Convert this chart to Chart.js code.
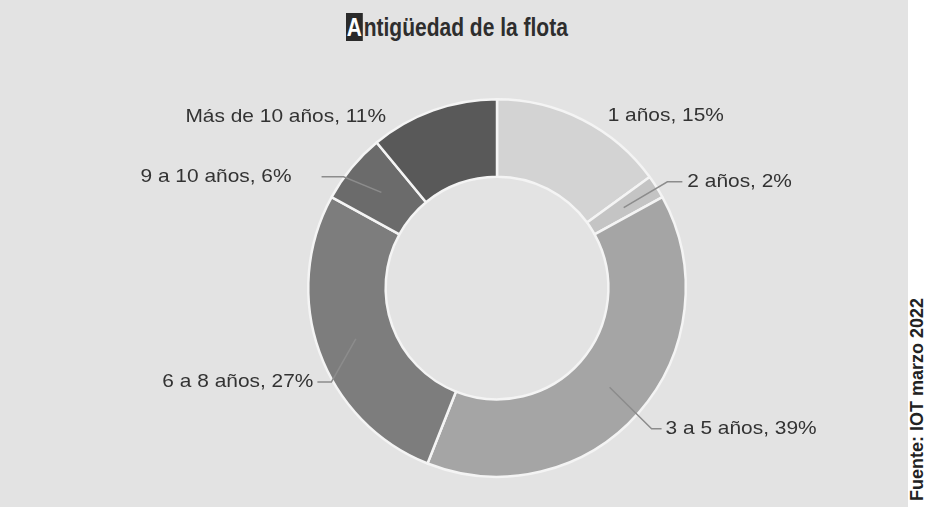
<!DOCTYPE html>
<html lang="es">
<head>
    <meta charset="UTF-8">
    <title>Antigüedad de la flota</title>
    <script src="https://cdn.jsdelivr.net/npm/chart.js"></script>
    <style>
        html, body { margin: 0; padding: 0; background: #fff; }
        .wrap { position: relative; width: 928px; height: 507px; overflow: hidden; }
        .panel { position: absolute; left: 0; top: 0; width: 908px; height: 507px; background: #e3e3e3; }
        .title {
            position: absolute; left: 346px; top: 13px; height: 28px;
            font-family: "Liberation Sans", Arial, sans-serif; font-weight: bold; font-size: 25px;
            color: #2e2e2e; white-space: nowrap; line-height: 28px;
            transform: scaleX(0.84); transform-origin: left center;
        }
        .title .cap { display: inline-block; background: #2a2a2a; color: #fff; padding: 0 1px; margin-right: 1px; line-height: 28px; }
        .source {
            position: absolute; left: 907px; top: 501px;
            font-family: "Liberation Sans", Arial, sans-serif; font-weight: bold; font-size: 18px;
            color: #222; white-space: nowrap;
            transform: rotate(-90deg); transform-origin: left top;
        }
        canvas { position: absolute; left: 0; top: 0; }
    </style>
</head>
<body>
<div class="wrap">
    <div class="panel"></div>
    <div class="title"><span class="cap">A</span>ntigüedad de la flota</div>
    <div class="source">Fuente: IOT marzo 2022</div>
    <canvas id="flotaChart" width="928" height="507"></canvas>
</div>
<script>
// datos
const categorias = ['1 años', '2 años', '3 a 5 años', '6 a 8 años', '9 a 10 años', 'Más de 10 años'];
const porcentajes = [15, 2, 39, 27, 6, 11];
const colores = ['#d3d3d3', '#c4c4c4', '#a5a5a5', '#7d7d7d', '#6b6b6b', '#595959'];

// etiquetas fuera del anillo con linea guia
const etiquetasPlugin = {
    id: 'etiquetas',
    afterDatasetsDraw(chart, args, opts) {
        const ctx = chart.ctx;
        const meta = chart.getDatasetMeta(0);
        meta.data.forEach(function(arc, i) {
            const p = arc.getProps(['x', 'y', 'startAngle', 'endAngle', 'outerRadius', 'innerRadius'], true);
            const mid = (p.startAngle + p.endAngle) / 2;
            const ox = p.x + Math.cos(mid) * p.outerRadius;
            const oy = p.y + Math.sin(mid) * p.outerRadius;
            const cfg = opts.items[i];
            const tx = ox + cfg.dx;
            const ty = oy + cfg.dy;
            // texto a la derecha -> la guia llega por la izquierda
            const dir = cfg.align === 'left' ? -1 : 1;

            if (cfg.leader) {
                const rm = (p.outerRadius + p.innerRadius) / 2;
                ctx.save();
                ctx.strokeStyle = '#8c8c8c';
                ctx.lineWidth = 1.5;
                ctx.beginPath();
                ctx.moveTo(p.x + Math.cos(mid) * rm, p.y + Math.sin(mid) * rm);
                ctx.lineTo(tx + dir * cfg.elbow, ty);
                ctx.lineTo(tx + dir * cfg.gap, ty);
                ctx.stroke();
                ctx.restore();
            }

            const texto = categorias[i] + ', ' + porcentajes[i] + '%';
            ctx.save();
            ctx.font = '19px "Liberation Sans", Arial, sans-serif';
            ctx.fillStyle = '#333';
            ctx.textBaseline = 'middle';
            ctx.textAlign = cfg.align;
            ctx.translate(tx, ty);
            ctx.scale(1.1, 1);
            ctx.fillText(texto, 0, 0);
            ctx.restore();
        });
    }
};

new Chart(document.getElementById('flotaChart').getContext('2d'), {
    type: 'doughnut',
    data: {
        labels: categorias,
        datasets: [{
            data: porcentajes,
            backgroundColor: colores,
            borderColor: '#f4f4f4',
            borderWidth: 2.5
        }]
    },
    options: {
        responsive: false,
        animation: false,
        events: [],
        cutout: '59%',
        layout: { padding: { top: 98, bottom: 29, left: 307, right: 241 } },
        plugins: {
            legend: { display: false },
            tooltip: { enabled: false },
            etiquetas: {
                items: [
                    { dx: 25, dy: -4, align: 'left', leader: false },
                    { dx: 31, dy: -5, align: 'left', leader: true, elbow: 20, gap: 5 },
                    { dx: 27, dy: 16, align: 'left', leader: true, elbow: 14, gap: 4 },
                    { dx: -6, dy: 30, align: 'right', leader: true, elbow: 18, gap: 4 },
                    { dx: -60, dy: 9, align: 'right', leader: true, elbow: 52, gap: 30 },
                    { dx: -47, dy: 6, align: 'right', leader: false }
                ]
            }
        }
    },
    plugins: [etiquetasPlugin]
});
</script>
</body>
</html>
